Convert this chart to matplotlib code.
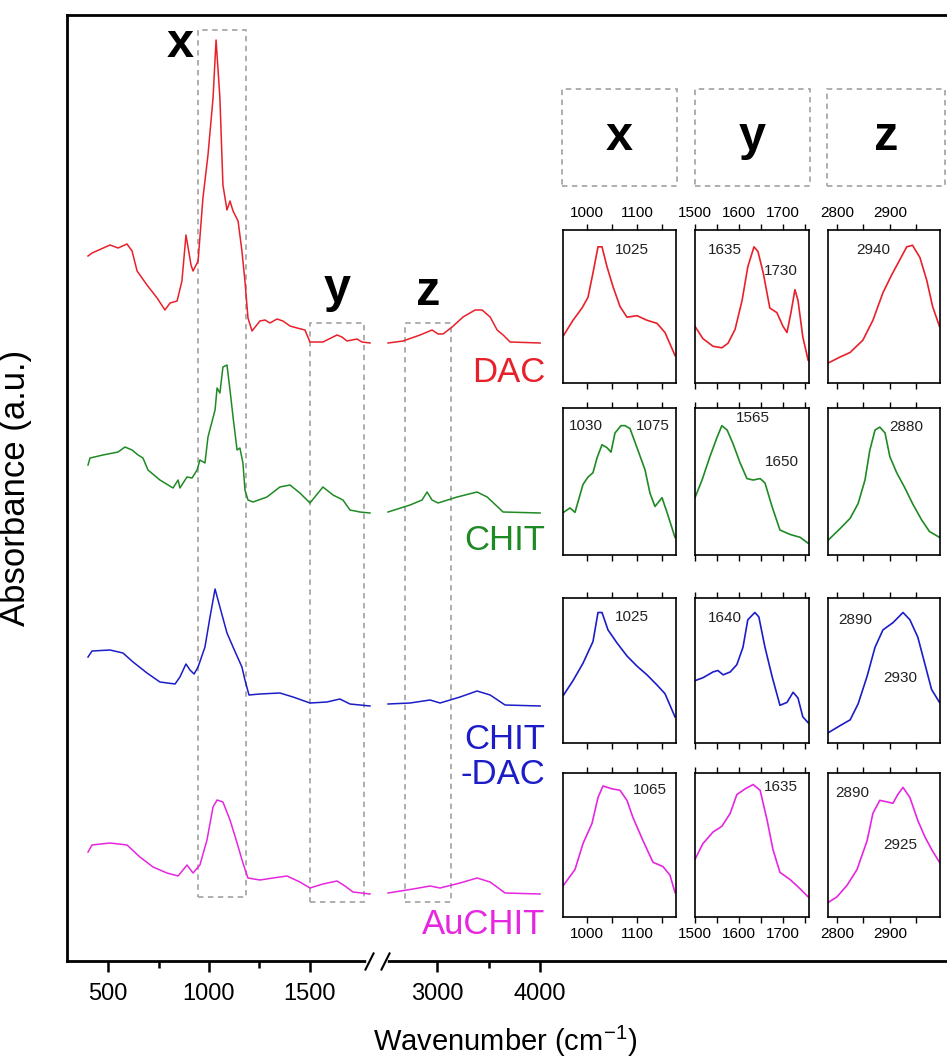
import numpy as np
import matplotlib
matplotlib.use("Agg")
import matplotlib.pyplot as plt
from matplotlib.patches import Rectangle
from matplotlib.ticker import FixedLocator, NullLocator, FixedFormatter
import matplotlib.transforms as mtransforms

plt.rcParams['font.family'] = ['Liberation Sans', 'DejaVu Sans']
plt.rcParams['mathtext.fontset'] = 'custom'
plt.rcParams['mathtext.rm'] = 'Liberation Sans'

# ---------------- data: main spectra (wavenumber, absorbance a.u.) ----------------
dac_w = [401, 421, 510, 550, 594, 619, 644, 693, 743, 782, 807, 842, 866, 886, 911, 921, 946, 970, 995,
         1020, 1035, 1054, 1069, 1089, 1104, 1119, 1144, 1163, 1178, 1193, 1213, 1252, 1277, 1302, 1337,
         1366, 1401, 1436, 1475, 1500, 1564, 1634, 1658, 1683, 1733, 1757, 1797,
         2524, 2670, 2835, 2951, 3010, 3058, 3146, 3252, 3369, 3437, 3515, 3583, 3641, 3709, 4000]
dac_a = [0.87, 0.90, 0.98, 0.95, 0.99, 0.92, 0.72, 0.58, 0.45, 0.33, 0.40, 0.42, 0.62, 1.08, 0.78, 0.72,
         0.82, 1.45, 1.88, 2.45, 3.03, 2.45, 1.58, 1.33, 1.42, 1.32, 1.22, 0.92, 0.62, 0.25, 0.12, 0.22,
         0.23, 0.20, 0.24, 0.22, 0.17, 0.15, 0.13, 0.01, 0.01, 0.08, 0.06, 0.02, 0.04, 0.01, 0.00,
         0.00, 0.02, 0.08, 0.13, 0.09, 0.09, 0.16, 0.26, 0.33, 0.33, 0.26, 0.13, 0.08, 0.01, 0.00]

chit_w = [401, 411, 475, 550, 584, 619, 649, 673, 698, 757, 822, 847, 856, 891, 916, 941, 955, 980, 995,
          1030, 1040, 1054, 1069, 1089, 1104, 1119, 1139, 1153, 1168, 1178, 1193, 1218, 1287, 1351, 1401,
          1450, 1500, 1564, 1614, 1663, 1698, 1747, 1797,
          2524, 2738, 2854, 2903, 2951, 3010, 3194, 3388, 3486, 3641, 4000]
chit_a = [0.48, 0.55, 0.58, 0.61, 0.66, 0.63, 0.58, 0.55, 0.43, 0.33, 0.25, 0.33, 0.25, 0.36, 0.35, 0.43,
          0.53, 0.50, 0.76, 1.03, 1.25, 1.20, 1.46, 1.48, 1.23, 0.96, 0.63, 0.65, 0.50, 0.23, 0.13, 0.11,
          0.16, 0.26, 0.28, 0.20, 0.10, 0.26, 0.18, 0.13, 0.03, 0.01, 0.00,
          0.01, 0.08, 0.13, 0.21, 0.13, 0.10, 0.16, 0.21, 0.16, 0.01, 0.00]

chitdac_w = [401, 421, 510, 574, 624, 693, 757, 832, 856, 886, 906, 926, 946, 980, 1005, 1030, 1054, 1089,
             1119, 1163, 1178, 1198, 1252, 1351, 1416, 1500, 1584, 1648, 1698, 1797,
             2524, 2738, 2932, 3029, 3223, 3388, 3515, 3660, 4000]
chitdac_a = [0.49, 0.55, 0.56, 0.53, 0.44, 0.33, 0.24, 0.22, 0.29, 0.42, 0.36, 0.32, 0.39, 0.59, 0.89, 1.17,
             0.99, 0.73, 0.59, 0.39, 0.26, 0.11, 0.12, 0.13, 0.09, 0.03, 0.04, 0.07, 0.02, 0.00,
             0.02, 0.03, 0.06, 0.03, 0.09, 0.15, 0.11, 0.01, 0.00]

auchit_w = [401, 421, 510, 594, 658, 723, 792, 847, 891, 921, 955, 990, 1020, 1040, 1069, 1104, 1139, 1168,
            1193, 1252, 1317, 1386, 1450, 1500, 1564, 1634, 1673, 1713, 1797,
            2524, 2767, 2932, 3029, 3223, 3388, 3515, 3660, 4000]
auchit_a = [0.42, 0.49, 0.51, 0.49, 0.37, 0.27, 0.21, 0.18, 0.29, 0.21, 0.29, 0.54, 0.87, 0.94, 0.92, 0.74,
            0.51, 0.31, 0.16, 0.14, 0.16, 0.18, 0.12, 0.06, 0.10, 0.13, 0.08, 0.02, 0.00,
            0.01, 0.05, 0.08, 0.06, 0.11, 0.16, 0.12, 0.01, 0.00]

names = ['DAC', 'CHIT', 'CHIT\n-DAC', 'AuCHIT']
offsets = [6.18, 4.48, 2.55, 0.67]
label_y = [5.89, 4.20, 2.04, 0.36]
colors = ['#e8202a', '#1f8a24', '#1c1cc8', '#e626e0']

# regions marked x, y, z (wavenumber limits, height limits in a.u.)
region_names = ['x', 'y', 'z']
region_w = [(946, 1183), (1500, 1767), (2689, 3136)]
region_h = [(0.64, 9.31), (0.59, 6.38), (0.59, 6.38)]
region_letter_pos = [(856, 9.04), (1634, 6.59), (2913, 6.56)]

# ---------------- data: zoomed insets (wavenumber, normalised absorbance) ----------------
ins_x_w = {
    'DAC': [953, 972, 990, 1002, 1012, 1022, 1030, 1040, 1052, 1066, 1080, 1100, 1120, 1140, 1156, 1176],
    'CHIT': [953, 966, 976, 992, 1002, 1012, 1020, 1030, 1040, 1048, 1056, 1068, 1076, 1086, 1100, 1116,
             1126, 1136, 1150, 1160, 1176],
    'CHITDAC': [953, 972, 992, 1012, 1022, 1030, 1042, 1060, 1080, 1100, 1120, 1140, 1156, 1176],
    'AuCHIT': [953, 976, 992, 1010, 1022, 1032, 1050, 1066, 1080, 1092, 1112, 1132, 1152, 1166, 1176],
}
ins_x_a = {
    'DAC': [0.31, 0.41, 0.49, 0.56, 0.72, 0.89, 0.89, 0.76, 0.63, 0.50, 0.43, 0.44, 0.41, 0.39, 0.33, 0.18],
    'CHIT': [0.29, 0.32, 0.29, 0.48, 0.53, 0.56, 0.66, 0.75, 0.73, 0.70, 0.83, 0.88, 0.88, 0.86, 0.73, 0.58,
             0.42, 0.33, 0.39, 0.29, 0.12],
    'CHITDAC': [0.33, 0.43, 0.55, 0.70, 0.90, 0.90, 0.78, 0.69, 0.60, 0.53, 0.47, 0.40, 0.34, 0.18],
    'AuCHIT': [0.22, 0.33, 0.51, 0.65, 0.83, 0.91, 0.89, 0.88, 0.81, 0.69, 0.53, 0.38, 0.35, 0.29, 0.17],
}
ins_y_w = {
    'DAC': [1500, 1518, 1541, 1561, 1575, 1591, 1607, 1620, 1634, 1643, 1655, 1670, 1686, 1700, 1709, 1718,
            1727, 1734, 1745, 1757],
    'CHIT': [1500, 1516, 1534, 1550, 1561, 1573, 1586, 1602, 1618, 1632, 1648, 1659, 1675, 1693, 1716, 1739,
             1757],
    'CHITDAC': [1500, 1518, 1541, 1552, 1564, 1580, 1595, 1609, 1620, 1636, 1645, 1659, 1675, 1693, 1709,
                1723, 1734, 1745, 1757],
    'AuCHIT': [1500, 1518, 1541, 1561, 1580, 1595, 1614, 1632, 1648, 1664, 1677, 1693, 1716, 1734, 1757],
}
ins_y_a = {
    'DAC': [0.37, 0.29, 0.24, 0.23, 0.26, 0.35, 0.54, 0.76, 0.89, 0.86, 0.72, 0.49, 0.46, 0.37, 0.33, 0.46,
            0.61, 0.54, 0.30, 0.15],
    'CHIT': [0.39, 0.51, 0.67, 0.80, 0.88, 0.85, 0.76, 0.63, 0.52, 0.51, 0.52, 0.49, 0.33, 0.17, 0.14, 0.12,
             0.08],
    'CHITDAC': [0.43, 0.45, 0.49, 0.50, 0.47, 0.49, 0.54, 0.66, 0.85, 0.90, 0.87, 0.66, 0.46, 0.26, 0.28,
                0.35, 0.31, 0.18, 0.14],
    'AuCHIT': [0.40, 0.51, 0.59, 0.63, 0.72, 0.85, 0.89, 0.92, 0.88, 0.67, 0.47, 0.31, 0.26, 0.21, 0.14],
}
ins_z_w = {
    'DAC': [2783, 2806, 2825, 2849, 2868, 2887, 2904, 2915, 2932, 2943, 2957, 2970, 2981, 2994],
    'CHIT': [2783, 2806, 2825, 2840, 2853, 2862, 2872, 2881, 2891, 2900, 2913, 2928, 2943, 2960, 2975, 2994],
    'CHITDAC': [2783, 2806, 2825, 2840, 2857, 2872, 2887, 2906, 2925, 2938, 2953, 2966, 2979, 2994],
    'AuCHIT': [2783, 2800, 2819, 2838, 2857, 2868, 2881, 2894, 2906, 2915, 2925, 2938, 2953, 2966, 2979, 2994],
}
ins_z_a = {
    'DAC': [0.13, 0.17, 0.20, 0.28, 0.41, 0.59, 0.71, 0.78, 0.89, 0.90, 0.82, 0.67, 0.50, 0.37],
    'CHIT': [0.10, 0.18, 0.25, 0.35, 0.51, 0.71, 0.85, 0.87, 0.83, 0.67, 0.56, 0.46, 0.35, 0.24, 0.16, 0.12],
    'CHITDAC': [0.07, 0.12, 0.16, 0.27, 0.46, 0.66, 0.78, 0.83, 0.90, 0.85, 0.73, 0.55, 0.37, 0.28],
    'AuCHIT': [0.10, 0.14, 0.22, 0.33, 0.53, 0.72, 0.81, 0.80, 0.79, 0.85, 0.90, 0.83, 0.67, 0.56, 0.47, 0.38],
}
inset_keys = ['DAC', 'CHIT', 'CHITDAC', 'AuCHIT']

# peak labels: (column, text, wavenumber, relative height)
peak_labels = {
    'DAC': [('x', '1025', 1090, 0.87), ('y', '1635', 1568, 0.87), ('y', '1730', 1695, 0.73),
            ('z', '2940', 2868, 0.87)],
    'CHIT': [('x', '1030', 998, 0.88), ('x', '1075', 1132, 0.88), ('y', '1565', 1632, 0.93),
             ('y', '1650', 1698, 0.63), ('z', '2880', 2932, 0.87)],
    'CHITDAC': [('x', '1025', 1090, 0.87), ('y', '1640', 1568, 0.86), ('z', '2890', 2834, 0.85),
                ('z', '2930', 2919, 0.45)],
    'AuCHIT': [('x', '1065', 1126, 0.88), ('y', '1635', 1695, 0.90), ('z', '2890', 2828, 0.86),
               ('z', '2925', 2919, 0.50)],
}

main_major = [500, 1000, 1500, 3000, 4000]
main_minor = [750, 1250, 3500]
inset_xlim = {'x': (952, 1178), 'y': (1500, 1759), 'z': (2783, 2995)}
inset_major = {'x': [1000, 1100], 'y': [1500, 1600, 1700], 'z': [2800, 2900]}
inset_minor = {'x': [1050, 1150], 'y': [1550, 1650, 1750], 'z': [2850, 2950]}

# ---------------- broken-axis scale ----------------
B0, B1, G, K = 1800.0, 2500.0, 0.106, 0.51
P1 = B0 + (B1 - B0) * G


def fwd(w):
    w = np.asarray(w, dtype=float)
    return np.where(w <= B0, w, np.where(w <= B1, B0 + (w - B0) * G, P1 + (w - B1) * K))


def inv(p):
    p = np.asarray(p, dtype=float)
    return np.where(p <= B0, p, np.where(p <= P1, B0 + (p - B0) / G, B1 + (p - P1) / K))


W, H = 947, 1062
fig = plt.figure(figsize=(W / 100, H / 100), dpi=100)


def fig_rect(x0, y0, x1, y1):
    return [x0 / W, 1 - y1 / H, (x1 - x0) / W, (y1 - y0) / H]


ax = fig.add_axes(fig_rect(67, 15, 947, 961))
ax.set_xscale('function', functions=(fwd, inv))
ax.set_xlim(297, 7950)
ax.set_ylim(0, 9.46)

for wv, av, off, col in zip([dac_w, chit_w, chitdac_w, auchit_w],
                            [dac_a, chit_a, chitdac_a, auchit_a], offsets, colors):
    wv = np.array(wv, float)
    av = np.array(av, float) + off
    lo = wv < 2000
    ax.plot(wv[lo], av[lo], color=col, lw=1.1)
    ax.plot(wv[~lo], av[~lo], color=col, lw=1.1)

for nm, ly, col in zip(names, label_y, colors):
    ax.text(4050, ly, nm, color=col, fontsize=25, ha='right', va='center',
            multialignment='right', linespacing=1.1)

for rn, (w0, w1), (h0, h1), (lx, lyy) in zip(region_names, region_w, region_h, region_letter_pos):
    ax.add_patch(Rectangle((w0, h0), w1 - w0, h1 - h0, fill=False, ec='#a8a8a8', lw=1.3,
                           ls=(0, (3, 2.5))))
    ax.text(lx, lyy, rn, fontsize=35, fontweight='bold', ha='center', va='baseline')

for s in ['left', 'bottom', 'top']:
    ax.spines[s].set_linewidth(2)
ax.spines['right'].set_visible(False)
ax.yaxis.set_major_locator(NullLocator())
ax.xaxis.set_major_locator(FixedLocator(main_major))
ax.xaxis.set_minor_locator(FixedLocator(main_minor))
ax.xaxis.set_major_formatter(FixedFormatter([str(v) for v in main_major]))
ax.tick_params(axis='x', which='major', direction='out', length=8, width=1.8, labelsize=17, pad=8)
ax.tick_params(axis='x', which='minor', direction='out', length=5, width=1.8)
ax.set_xlabel('Wavenumber (cm$^{\\mathregular{-1}}$)', fontsize=21)
ax.xaxis.set_label_coords(0.498, -0.066)
ax.set_ylabel('Absorbance (a.u.)', fontsize=25)
ax.yaxis.set_label_coords(-0.040, 0.5)

# break marks on the x axis
blend = mtransforms.blended_transform_factory(ax.transData, ax.transAxes)
ax.plot([1790, 2480], [0, 0], transform=blend, color='white', lw=4, clip_on=False, zorder=5)
ax.plot([1790, 2480], [0, 0], transform=blend, ls='none', marker=[(-1, -2), (1, 2)], ms=13,
        mec='k', mew=1.5, clip_on=False, zorder=6)

# ---------------- insets ----------------
col_px = {'x': (563, 676), 'y': (695, 809), 'z': (828, 940)}
row_px = [(230, 383), (408, 555), (598, 743), (773, 917)]
ins_w = {'x': ins_x_w, 'y': ins_y_w, 'z': ins_z_w}
ins_a = {'x': ins_x_a, 'y': ins_y_a, 'z': ins_z_a}

for r, (key, col) in enumerate(zip(inset_keys, colors)):
    for c in ['x', 'y', 'z']:
        x0, x1 = col_px[c]
        y0, y1 = row_px[r]
        ia = fig.add_axes(fig_rect(x0, y0, x1, y1))
        ia.plot(ins_w[c][key], ins_a[c][key], color=col, lw=1.2)
        ia.set_xlim(*inset_xlim[c])
        ia.set_ylim(0, 1)
        ia.set_yticks([])
        ia.xaxis.set_major_locator(FixedLocator(inset_major[c]))
        ia.xaxis.set_minor_locator(FixedLocator(inset_minor[c]))
        ia.tick_params(axis='x', which='both', direction='out', top=True, bottom=True, length=4,
                       width=1, labelsize=11, labeltop=(r == 0), labelbottom=(r == 3), pad=3)
        for s in ia.spines.values():
            s.set_linewidth(1.2)
        for cc, txt, pw, ph in peak_labels[key]:
            if cc == c:
                ia.text(pw, ph, txt, fontsize=11, ha='center', va='center', color='#222222')

# header boxes above insets
head_px = {'x': (562, 677), 'y': (695, 810), 'z': (827, 945)}
for c in ['x', 'y', 'z']:
    x0, x1 = head_px[c]
    fig.add_artist(Rectangle((x0 / W, 1 - 186 / H), (x1 - x0) / W, (186 - 89) / H, fill=False,
                             ec='#a8a8a8', lw=1.3, ls=(0, (3, 2.5)), transform=fig.transFigure))
    fig.text((x0 + x1) / 2 / W, 1 - 150 / H, c, fontsize=35, fontweight='bold', ha='center',
             va='baseline')

fig.savefig('out.png', dpi=100)
